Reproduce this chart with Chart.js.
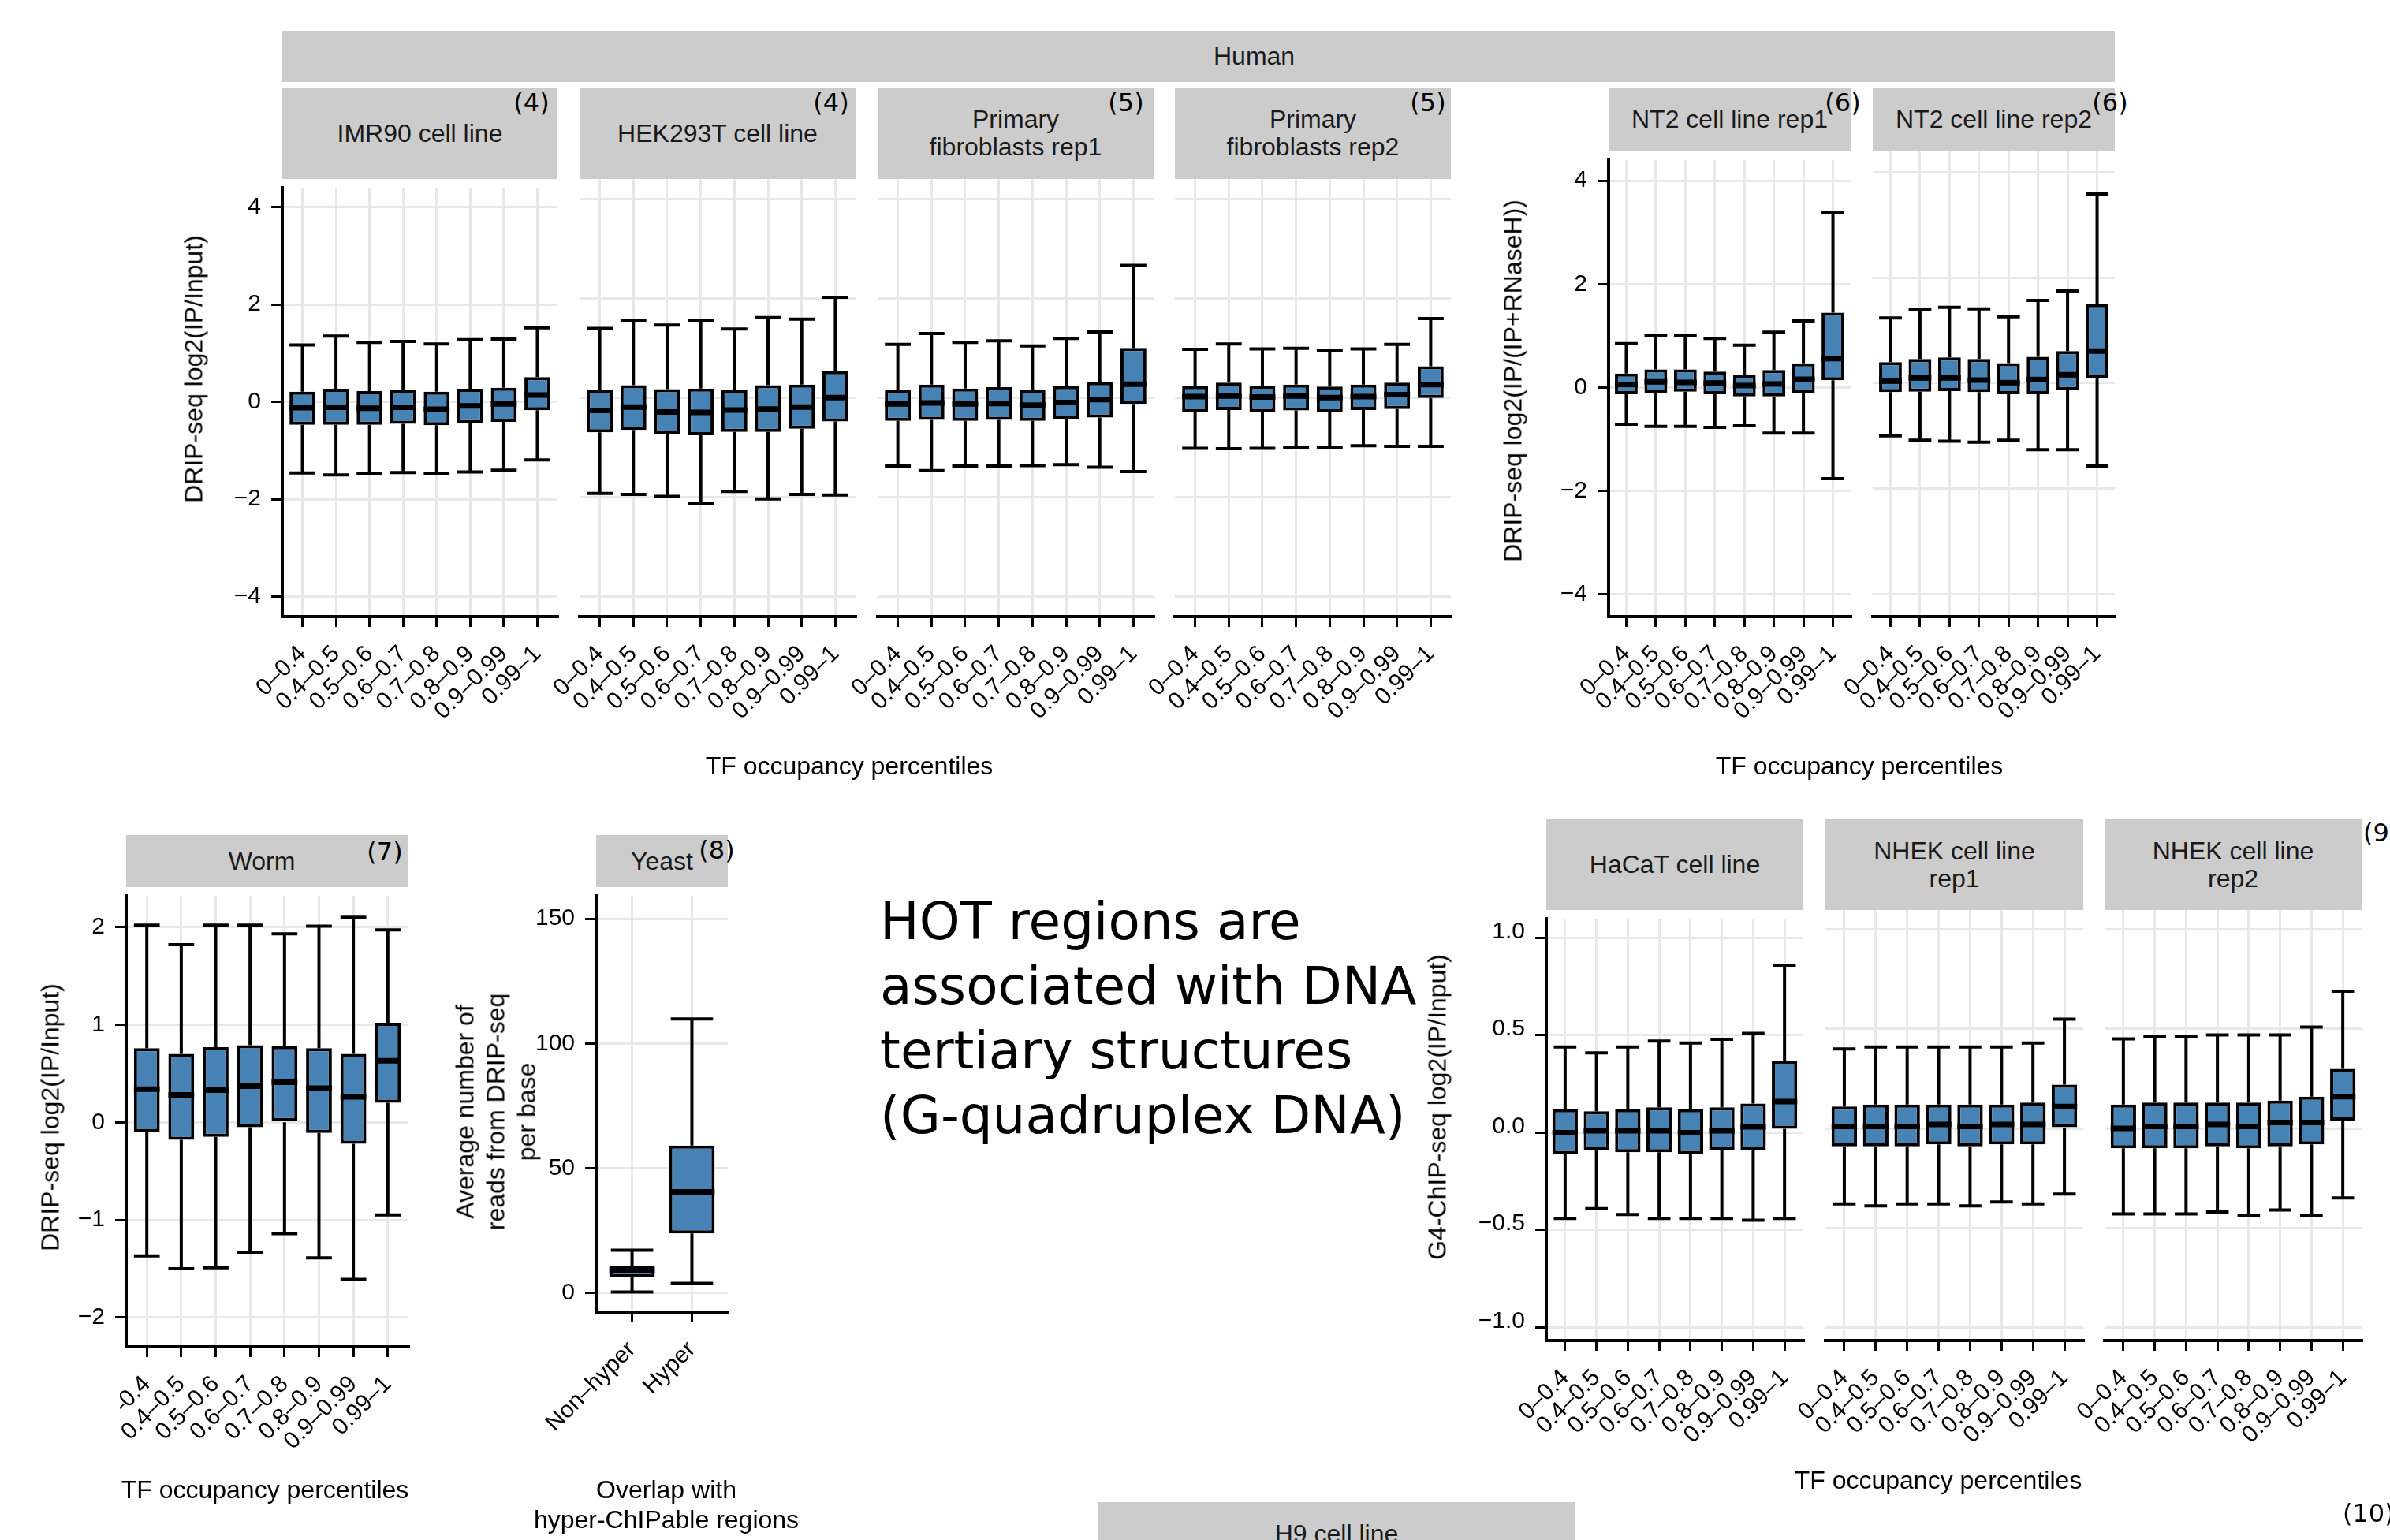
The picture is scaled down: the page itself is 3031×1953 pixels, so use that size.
<!DOCTYPE html>
<html><head><meta charset="utf-8">
<script src="https://cdn.jsdelivr.net/npm/chart.js@4/dist/chart.umd.min.js"></script>
<style>
html,body{margin:0;padding:0;background:#fff;}
body{width:3031px;height:1953px;overflow:hidden;position:relative;font-family:'Liberation Sans',Arial,Helvetica,sans-serif;color:#000;}
canvas{position:absolute;}
.strip{position:absolute;background:#CCCCCC;display:flex;align-items:center;justify-content:center;text-align:center;font-size:32px;line-height:35px;color:#1a1a1a;box-sizing:border-box;}
.num{position:absolute;font-family:'DejaVu Sans',sans-serif;font-size:32px;white-space:nowrap;transform:translate(-50%,-50%);line-height:1;}
.numL{position:absolute;font-family:'DejaVu Sans',sans-serif;font-size:32px;white-space:nowrap;transform:translate(0,-50%);line-height:1;}
.title{position:absolute;font-size:32px;white-space:nowrap;text-align:center;transform:translate(-50%,-50%);}
.ytitle{position:absolute;font-size:32px;white-space:nowrap;text-align:center;transform:translate(-50%,-50%) rotate(-90deg);}
.big{position:absolute;left:1116px;top:1128px;font-family:'DejaVu Sans',sans-serif;font-size:66px;line-height:82px;white-space:nowrap;}
</style></head><body>
<script>
// ---------------- DATA ----------------
const percentileLabels = ['0–0.4','0.4–0.5','0.5–0.6','0.6–0.7','0.7–0.8','0.8–0.9','0.9–0.99','0.99–1'];
const yeastLabels = ['Non–hyper','Hyper'];

const yTicksDrip = [-4,-2,0,2,4];
const yTicksWorm = [-2,-1,0,1,2];
const yTicksYeast = [0,50,100,150];
const yTicksG4 = [-1,-0.5,0,0.5,1];

// IMR90 cell line
const imr90Low  = [-1.46,-1.50,-1.47,-1.45,-1.47,-1.44,-1.40,-1.19];
const imr90Q1   = [-0.47,-0.47,-0.47,-0.45,-0.48,-0.44,-0.41,-0.17];
const imr90Med  = [-0.12,-0.11,-0.13,-0.11,-0.15,-0.08,-0.04,0.14];
const imr90Q3   = [0.21,0.27,0.22,0.25,0.21,0.27,0.29,0.51];
const imr90High = [1.17,1.35,1.22,1.24,1.19,1.28,1.29,1.52];
// HEK293T cell line
const hekLow  = [-1.93,-1.95,-1.99,-2.13,-1.89,-2.04,-1.95,-1.96];
const hekQ1   = [-0.70,-0.65,-0.73,-0.76,-0.69,-0.69,-0.63,-0.48];
const hekMed  = [-0.26,-0.19,-0.29,-0.30,-0.25,-0.23,-0.19,0.00];
const hekQ3   = [0.16,0.25,0.17,0.18,0.16,0.25,0.26,0.53];
const hekHigh = [1.39,1.56,1.46,1.56,1.38,1.61,1.58,2.02];
// Primary fibroblasts rep1
const fib1Low  = [-1.38,-1.47,-1.38,-1.38,-1.37,-1.35,-1.40,-1.49];
const fib1Q1   = [-0.47,-0.45,-0.47,-0.45,-0.47,-0.43,-0.40,-0.13];
const fib1Med  = [-0.13,-0.11,-0.13,-0.12,-0.15,-0.10,-0.04,0.27];
const fib1Q3   = [0.16,0.26,0.18,0.21,0.15,0.23,0.31,1.00];
const fib1High = [1.07,1.29,1.11,1.14,1.04,1.19,1.32,2.66];
// Primary fibroblasts rep2
const fib2Low  = [-1.02,-1.03,-1.02,-1.00,-1.00,-0.97,-0.98,-0.98];
const fib2Q1   = [-0.29,-0.25,-0.29,-0.26,-0.30,-0.25,-0.23,-0.01];
const fib2Med  = [0.02,0.03,0.01,0.03,0.00,0.02,0.06,0.26];
const fib2Q3   = [0.23,0.30,0.24,0.26,0.22,0.26,0.30,0.63];
const fib2High = [0.97,1.08,0.98,0.99,0.94,0.98,1.07,1.59];
// NT2 cell line rep1
const nt1Low  = [-0.71,-0.75,-0.75,-0.77,-0.74,-0.88,-0.88,-1.76];
const nt1Q1   = [-0.13,-0.10,-0.08,-0.13,-0.17,-0.17,-0.10,0.14];
const nt1Med  = [0.06,0.11,0.10,0.09,0.04,0.07,0.16,0.56];
const nt1Q3   = [0.27,0.35,0.35,0.31,0.24,0.34,0.47,1.45];
const nt1High = [0.85,1.01,1.00,0.95,0.82,1.07,1.29,3.39];
// NT2 cell line rep2
const nt2Low  = [-1.00,-1.08,-1.10,-1.12,-1.08,-1.26,-1.26,-1.57];
const nt2Q1   = [-0.17,-0.16,-0.15,-0.17,-0.21,-0.21,-0.13,0.09];
const nt2Med  = [0.04,0.10,0.10,0.06,0.01,0.07,0.16,0.61];
const nt2Q3   = [0.40,0.46,0.49,0.46,0.38,0.50,0.61,1.50];
const nt2High = [1.24,1.40,1.44,1.41,1.26,1.57,1.75,3.59];
// Worm
const wormLow  = [-1.37,-1.50,-1.49,-1.33,-1.14,-1.39,-1.61,-0.95];
const wormQ1   = [-0.10,-0.18,-0.15,-0.05,0.00,-0.11,-0.22,0.20];
const wormMed  = [0.34,0.28,0.33,0.37,0.41,0.35,0.26,0.63];
const wormQ3   = [0.76,0.70,0.77,0.79,0.78,0.76,0.70,1.02];
const wormHigh = [2.02,1.82,2.02,2.02,1.93,2.01,2.10,1.97];
// Yeast
const yeastLow  = [0.4,3.8];
const yeastQ1   = [6.4,23.8];
const yeastMed  = [9.1,40.5];
const yeastQ3   = [10.9,59.1];
const yeastHigh = [17.1,109.8];
// HaCaT cell line
const hacatLow  = [-0.44,-0.39,-0.42,-0.44,-0.44,-0.44,-0.45,-0.44];
const hacatQ1   = [-0.11,-0.09,-0.10,-0.10,-0.11,-0.09,-0.09,0.02];
const hacatMed  = [0.00,0.01,0.01,0.01,0.00,0.01,0.03,0.16];
const hacatQ3   = [0.12,0.11,0.12,0.13,0.12,0.13,0.15,0.37];
const hacatHigh = [0.44,0.41,0.44,0.47,0.46,0.48,0.51,0.86];
// NHEK cell line rep1
const nhek1Low  = [-0.38,-0.39,-0.38,-0.38,-0.39,-0.37,-0.38,-0.33];
const nhek1Q1   = [-0.09,-0.09,-0.09,-0.08,-0.09,-0.08,-0.08,0.00];
const nhek1Med  = [0.01,0.01,0.01,0.02,0.01,0.02,0.02,0.11];
const nhek1Q3   = [0.11,0.12,0.12,0.12,0.12,0.12,0.13,0.22];
const nhek1High = [0.40,0.41,0.41,0.41,0.41,0.41,0.43,0.55];
// NHEK cell line rep2
const nhek2Low  = [-0.43,-0.43,-0.43,-0.42,-0.44,-0.41,-0.44,-0.35];
const nhek2Q1   = [-0.10,-0.10,-0.10,-0.09,-0.10,-0.09,-0.08,0.04];
const nhek2Med  = [0.00,0.01,0.01,0.02,0.01,0.03,0.03,0.16];
const nhek2Q3   = [0.12,0.13,0.13,0.13,0.13,0.14,0.16,0.30];
const nhek2High = [0.45,0.46,0.46,0.47,0.47,0.47,0.51,0.69];

// ---------------- RENDERING ----------------
Chart.defaults.font.family = "'Liberation Sans', Arial, Helvetica, sans-serif";
Chart.defaults.color = '#000';
const GRID = '#E8E8E8';
const EL = 170, ER = 70, ET = 20, EB = 240, YW = 110, XH = 210;
const minusFmt = v => (v < 0 ? '\u2212' : '') + Math.abs(v);
const minusFmt1 = v => (v < 0 ? '\u2212' : '') + Math.abs(v).toFixed(1);

function addDiv(cls, html, style) {
  const d = document.createElement('div');
  d.className = cls; d.innerHTML = html;
  Object.assign(d.style, style || {});
  document.body.appendChild(d);
  return d;
}

function boxPanel(cfg) {
  const {left, top, right, bottom, labels, low, q1, med, q3, high, yMin, yMax, yTicks, yFmt, showY, boxFrac, capFrac, clip, yLabelOffset} = cfg;
  const w = right - left, h = bottom - top;
  const xMin = -0.6, xMax = labels.length - 0.4;
  const cv = document.createElement('canvas');
  cv.width = w + EL + ER; cv.height = h + ET + EB;
  cv.style.left = (left - EL) + 'px'; cv.style.top = (top - ET) + 'px';
  if (clip) cv.style.clipPath = clip;
  document.body.appendChild(cv);
  const whiskerPlugin = {
    id: 'whiskers',
    beforeDatasetsDraw(chart) {
      const {ctx} = chart; const xs = chart.scales.x, ys = chart.scales.y;
      const meta = chart.getDatasetMeta(0);
      ctx.save(); ctx.strokeStyle = '#000'; ctx.lineWidth = 4; ctx.lineCap = 'butt';
      meta.data.forEach((bar, i) => {
        const cx = xs.getPixelForValue(i);
        const half = bar.width / 2 * capFrac;
        const yl = ys.getPixelForValue(low[i]), yh = ys.getPixelForValue(high[i]);
        const y1 = ys.getPixelForValue(q1[i]), y3 = ys.getPixelForValue(q3[i]);
        ctx.beginPath();
        ctx.moveTo(cx, yh); ctx.lineTo(cx, y3);
        ctx.moveTo(cx, y1); ctx.lineTo(cx, yl);
        ctx.moveTo(cx - half, yh); ctx.lineTo(cx + half, yh);
        ctx.moveTo(cx - half, yl); ctx.lineTo(cx + half, yl);
        ctx.stroke();
      });
      ctx.restore();
    },
    afterDatasetsDraw(chart) {
      const {ctx} = chart; const xs = chart.scales.x, ys = chart.scales.y;
      const meta = chart.getDatasetMeta(0);
      ctx.save(); ctx.strokeStyle = '#000'; ctx.lineWidth = 7; ctx.lineCap = 'butt';
      meta.data.forEach((bar, i) => {
        const cx = xs.getPixelForValue(i);
        const ym = ys.getPixelForValue(med[i]);
        ctx.beginPath(); ctx.moveTo(cx - bar.width / 2, ym); ctx.lineTo(cx + bar.width / 2, ym); ctx.stroke();
      });
      ctx.restore();
    }
  };
  new Chart(cv, {
    type: 'bar',
    data: { datasets: [{
      data: labels.map((_, i) => ({x: i, y: [q1[i], q3[i]]})),
      backgroundColor: '#4682B4', borderColor: '#000', borderWidth: 4, borderSkipped: false,
      barPercentage: boxFrac, categoryPercentage: 1
    }]},
    options: {
      responsive: false, animation: false, events: [],
      layout: {padding: {left: EL - (showY ? YW : 0), right: ER, top: ET, bottom: EB - XH}},
      plugins: {legend: {display: false}, tooltip: {enabled: false}},
      scales: {
        x: {
          type: 'linear', min: xMin, max: xMax, offset: false, bounds: 'data',
          afterBuildTicks: s => { s.ticks = labels.map((_, i) => ({value: i})); s.min = xMin; s.max = xMax; },
          afterFit: s => { s.height = XH; },
          ticks: {callback: v => labels[v], minRotation: 45, maxRotation: 45, autoSkip: false, includeBounds: false, font: {size: 30}, padding: 17, color: '#000'},
          grid: {offset: false, color: GRID, lineWidth: 3, tickLength: 13, tickWidth: 3, tickColor: '#000'},
          border: {display: true, color: '#000', width: 4}
        },
        y: {
          type: 'linear', min: yMin, max: yMax, bounds: 'data',
          afterBuildTicks: s => { s.ticks = yTicks.map(v => ({value: v})); s.min = yMin; s.max = yMax; },
          afterFit: s => { s.width = showY ? YW : 0; },
          ticks: {display: showY, callback: yFmt, font: {size: 30}, padding: 13, color: '#000', labelOffset: yLabelOffset || 0},
          grid: {color: GRID, lineWidth: 3, drawTicks: showY, tickLength: 14, tickWidth: 3, tickColor: '#000'},
          border: {display: showY, color: '#000', width: 4}
        }
      }
    },
    plugins: [whiskerPlugin]
  });
}

// ----- strips -----
const strip = (x, y, w, h, txt, extra) => addDiv('strip', txt, Object.assign({left: x + 'px', top: y + 'px', width: w + 'px', height: h + 'px'}, extra || {}));
strip(358, 39, 2324, 65, 'Human', {justifyContent: 'flex-start', paddingLeft: '1181px'});
strip(358, 111, 349, 116, 'IMR90 cell line');
strip(735, 111, 350, 116, 'HEK293T cell line');
strip(1113, 111, 350, 116, 'Primary<br>fibroblasts rep1');
strip(1490, 111, 350, 116, 'Primary<br>fibroblasts rep2');
strip(2040, 111, 307, 81, 'NT2 cell line rep1');
strip(2375, 111, 307, 81, 'NT2 cell line rep2');
strip(160, 1059, 358, 66, 'Worm', {paddingRight: '14px'});
strip(756, 1059, 167, 66, 'Yeast');
strip(1961, 1039, 326, 115, 'HaCaT cell line');
strip(2315, 1039, 327, 115, 'NHEK cell line<br>rep1');
strip(2669, 1039, 326, 115, 'NHEK cell line<br>rep2');
strip(1392, 1905, 606, 80, 'H9 cell line');

// ----- panels: top row -----
const dripTop = {top: 227, bottom: 782, labels: percentileLabels, yMin: -4.41, yMax: 4.40, yTicks: yTicksDrip, yFmt: minusFmt, boxFrac: 0.77, capFrac: 1.0};
boxPanel({...dripTop, left: 358, right: 707, showY: true, low: imr90Low, q1: imr90Q1, med: imr90Med, q3: imr90Q3, high: imr90High});
boxPanel({...dripTop, left: 735, right: 1085, showY: false, low: hekLow, q1: hekQ1, med: hekMed, q3: hekQ3, high: hekHigh});
boxPanel({...dripTop, left: 1113, right: 1463, showY: false, low: fib1Low, q1: fib1Q1, med: fib1Med, q3: fib1Q3, high: fib1High});
boxPanel({...dripTop, left: 1490, right: 1840, showY: false, low: fib2Low, q1: fib2Q1, med: fib2Med, q3: fib2Q3, high: fib2High});
const ntTop = {top: 192, bottom: 782, labels: percentileLabels, yMin: -4.43, yMax: 4.40, yTicks: yTicksDrip, yFmt: minusFmt, boxFrac: 0.77, capFrac: 1.0};
boxPanel({...ntTop, left: 2040, right: 2347, showY: true, low: nt1Low, q1: nt1Q1, med: nt1Med, q3: nt1Q3, high: nt1High});
boxPanel({...ntTop, left: 2375, right: 2682, showY: false, low: nt2Low, q1: nt2Q1, med: nt2Med, q3: nt2Q3, high: nt2High});

// ----- bottom row -----
boxPanel({top: 1125, bottom: 1708, left: 160, right: 518, labels: percentileLabels, yMin: -2.30, yMax: 2.32, yTicks: yTicksWorm, yFmt: minusFmt, boxFrac: 0.75, capFrac: 1.0, showY: true,
  low: wormLow, q1: wormQ1, med: wormMed, q3: wormQ3, high: wormHigh,
  clip: 'polygon(0 0, 100% 0, 100% 100%, 162px 100%, 162px 607px, 0 607px)'});
boxPanel({top: 1125, bottom: 1664, left: 756, right: 923, labels: yeastLabels, yMin: -7.7, yMax: 159.2, yTicks: yTicksYeast, yFmt: v => String(v), boxFrac: 0.76, capFrac: 0.93, showY: true,
  low: yeastLow, q1: yeastQ1, med: yeastMed, q3: yeastQ3, high: yeastHigh});
const g4 = {top: 1154, bottom: 1700, labels: percentileLabels, yMin: -1.067, yMax: 1.099, yTicks: yTicksG4, yFmt: minusFmt1, boxFrac: 0.81, capFrac: 0.89, yLabelOffset: -8};
boxPanel({...g4, left: 1961, right: 2287, showY: true, low: hacatLow, q1: hacatQ1, med: hacatMed, q3: hacatQ3, high: hacatHigh});
boxPanel({...g4, left: 2315, right: 2642, showY: false, low: nhek1Low, q1: nhek1Q1, med: nhek1Med, q3: nhek1Q3, high: nhek1High});
boxPanel({...g4, left: 2669, right: 2995, showY: false, low: nhek2Low, q1: nhek2Q1, med: nhek2Med, q3: nhek2Q3, high: nhek2High});

// ----- panel numbers -----
const num = (x, y, t) => addDiv('num', t, {left: x + 'px', top: y + 'px'});
num(674, 130, '(4)'); num(1054, 130, '(4)'); num(1428, 130, '(5)'); num(1811, 130, '(5)');
num(2337, 130, '(6)'); num(2676, 130, '(6)'); num(488, 1080, '(7)'); num(909, 1078, '(8)');
addDiv('numL', '(9)', {left: '2997px', top: '1056px'});
addDiv('numL', '(10)', {left: '2971px', top: '1919px'});

// ----- axis titles -----
const title = (x, y, t, extra) => addDiv('title', t, Object.assign({left: x + 'px', top: y + 'px'}, extra || {}));
const ytitle = (x, y, t, extra) => addDiv('ytitle', t, Object.assign({left: x + 'px', top: y + 'px'}, extra || {}));
ytitle(246, 468, 'DRIP-seq log2(IP/Input)');
ytitle(1919, 483, 'DRIP-seq log2(IP/(IP+RNaseH))');
ytitle(64, 1417, 'DRIP-seq log2(IP/Input)');
ytitle(629, 1410, 'Average number of<br>reads from DRIP-seq<br>per base', {lineHeight: '39px'});
ytitle(1823, 1404, 'G4-ChIP-seq log2(IP/Input)');
title(1077, 971, 'TF occupancy percentiles');
title(2358, 971, 'TF occupancy percentiles');
title(336, 1889, 'TF occupancy percentiles');
title(845, 1908, 'Overlap with<br>hyper-ChIPable regions', {lineHeight: '38px'});
title(2458, 1877, 'TF occupancy percentiles');

addDiv('big', 'HOT regions are<br>associated with DNA<br>tertiary structures<br>(G-quadruplex DNA)');
</script>
</body></html>
